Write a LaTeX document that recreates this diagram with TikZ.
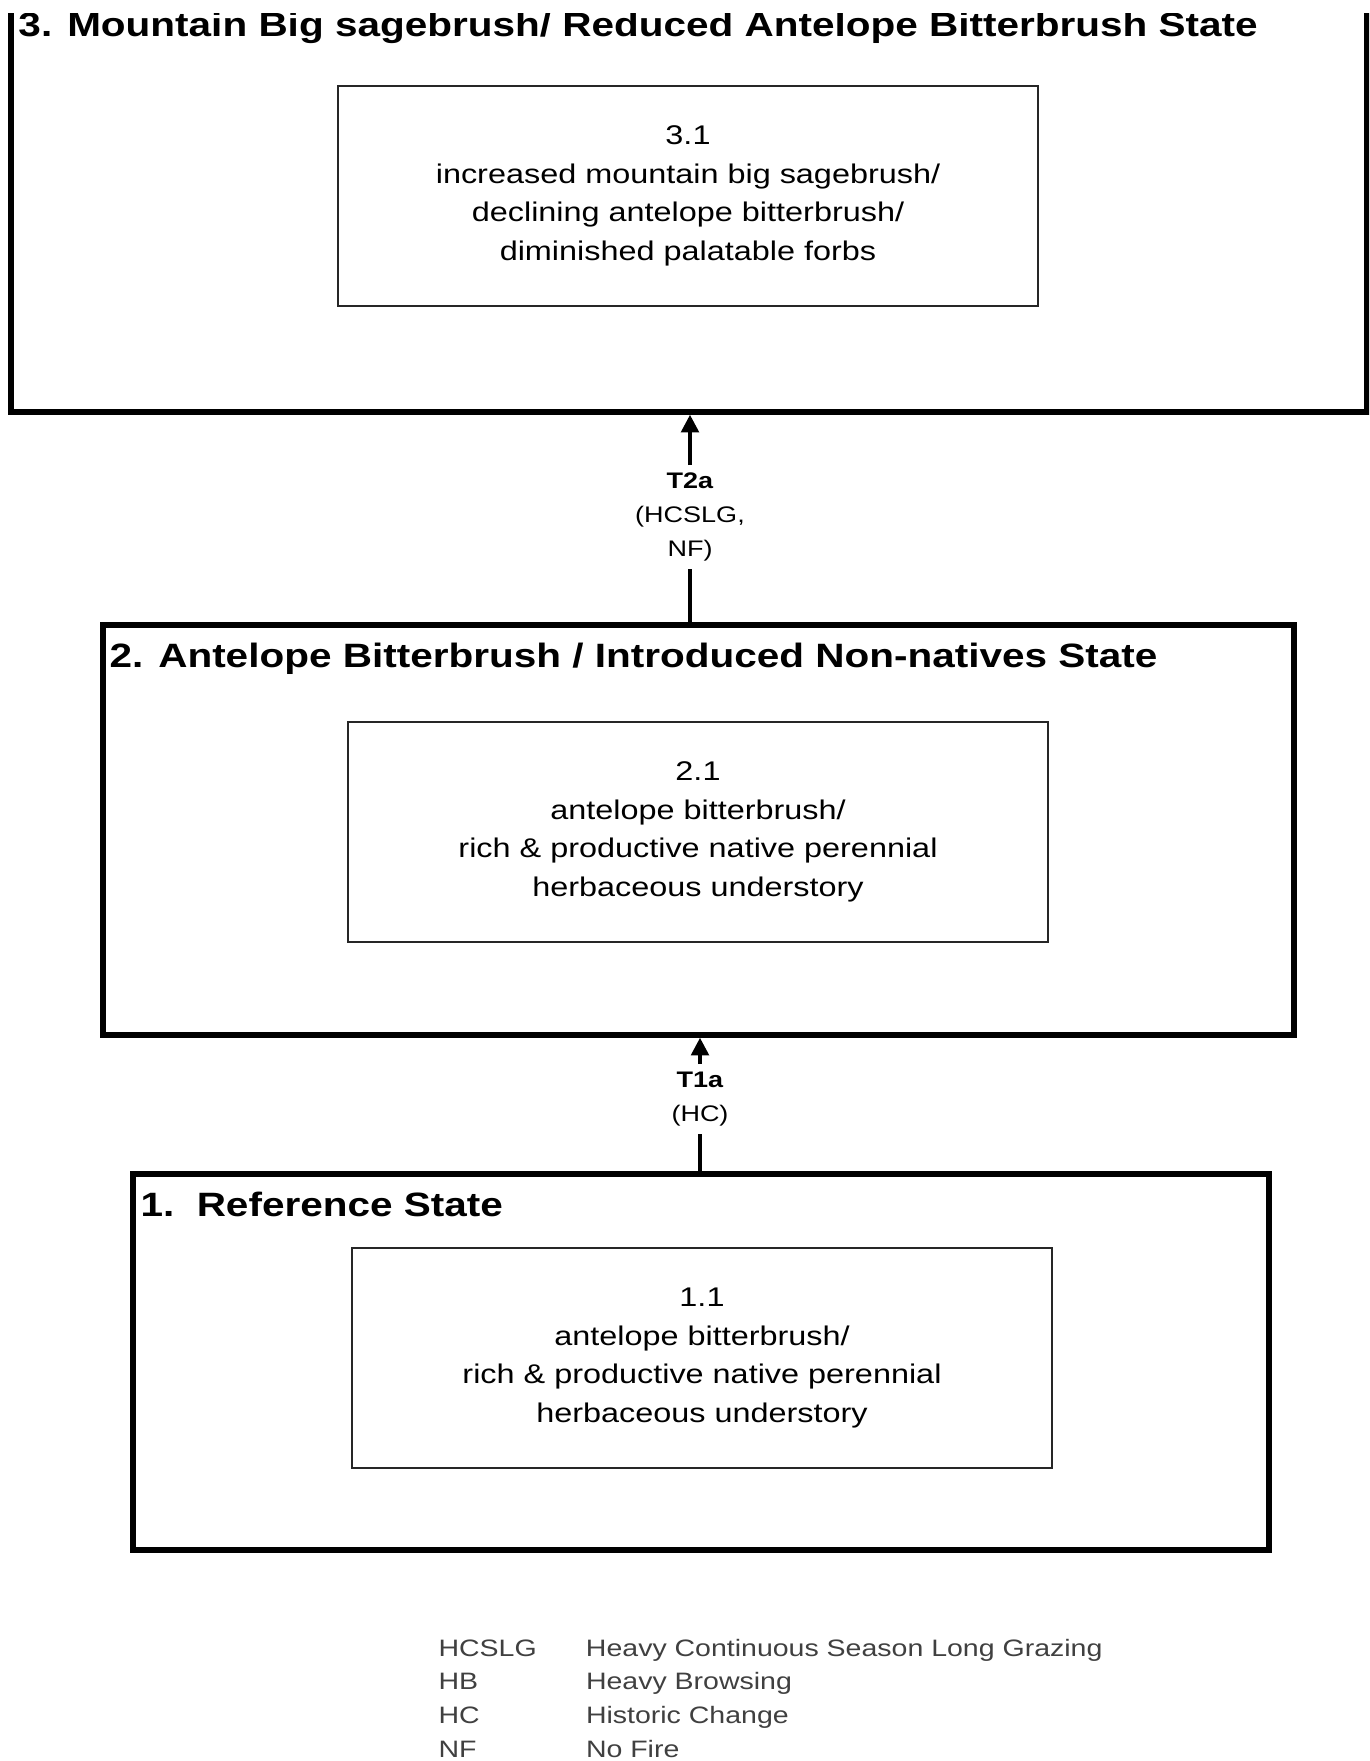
\documentclass[tikz,border=0pt]{standalone}
\usepackage{fontspec}
\setmainfont{Liberation Sans}[FakeStretch=1.2]
\usetikzlibrary{arrows.meta,fit}

\begin{document}
\begin{tikzpicture}[x=0.4pt,y=-0.4pt,
  statebox/.style={draw, line width=2.2pt, inner sep=0pt},
  phasebox/.style={draw=black!85, line width=0.9pt, align=center, minimum width=280pt, minimum height=88pt, font=\fontsize{10.8}{15.4}\selectfont},
  statetitle/.style={anchor=base west, inner sep=0pt, font=\fontsize{13.5}{16}\selectfont\bfseries},
  translabel/.style={align=center, inner sep=3pt, font=\fontsize{9}{13.5}\selectfont},
  trans/.style={line width=1.4pt, -{Triangle[width=7pt,length=7pt]}},
  legend/.style={inner sep=0pt, text=black!75, font=\fontsize{9.5}{13.5}\selectfont}]
\useasboundingbox (0,0) rectangle (1369,1761);

% state 3, cut off at the top
\begin{scope}
\clip (0,13) rectangle (1369,1761);
\node[statebox, fit={(11,-20) (1367,412)}] (s3) {};
\node[statetitle] (s3title) at (18,36) {3. Mountain Big sagebrush/ Reduced Antelope Bitterbrush State};
\end{scope}
\node[phasebox] (p31) at (688,196) {3.1\\increased mountain big sagebrush/\\declining antelope bitterbrush/\\diminished palatable forbs};

% state 2
\node[statebox, fit={(103,625) (1294,1035)}] (s2) {};
\node[statetitle] (s2title) at (109,667) {2. Antelope Bitterbrush / Introduced Non-natives State};
\node[phasebox] (p21) at (698,832) {2.1\\antelope bitterbrush/\\rich \& productive native perennial\\herbaceous understory};

% state 1
\node[statebox, fit={(133,1174) (1269,1550)}] (s1) {};
\node[statetitle] (s1title) at (140,1216) {1.\ \ Reference State};
\node[phasebox] (p11) at (702,1358) {1.1\\antelope bitterbrush/\\rich \& productive native perennial\\herbaceous understory};

% transitions
\node[translabel] (t2a) at (690,517) {\textbf{T2a}\\(HCSLG,\\NF)};
\draw[line width=1.4pt] (s2.north -| t2a) -- (t2a.south);
\draw[trans] (t2a.north) -- (s3.south -| t2a);

\node[translabel] (t1a) at (700,1099) {\textbf{T1a}\\(HC)};
\draw[line width=1.4pt] (s1.north -| t1a) -- (t1a.south);
\draw[trans] (t1a.north) -- (s2.south -| t1a);

% legend
\node[legend, anchor=north west] (legend) at (438,1632) {\begin{tabular}{@{}p{59pt}@{}l@{}}
HCSLG & Heavy Continuous Season Long Grazing\\
HB & Heavy Browsing\\
HC & Historic Change\\
NF & No Fire
\end{tabular}};

\end{tikzpicture}
\end{document}
